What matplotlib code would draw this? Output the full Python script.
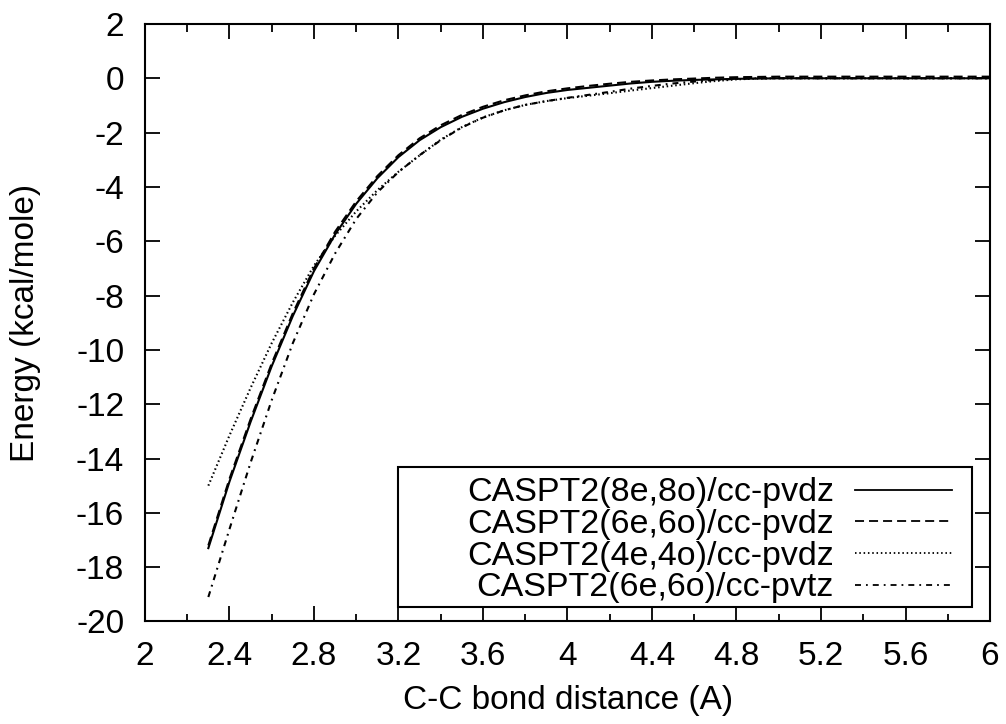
import matplotlib
matplotlib.use("Agg")
import matplotlib.pyplot as plt
from matplotlib.ticker import MultipleLocator
from matplotlib.patches import Rectangle

plt.rcParams['font.family'] = ['Liberation Sans', 'DejaVu Sans']
plt.rcParams['lines.scale_dashes'] = False
plt.rcParams['axes.unicode_minus'] = False

# C-C bond distance (A)
r = [2.3, 2.4, 2.5, 2.6, 2.7, 2.8, 2.9, 3.0, 3.1, 3.2,
     3.3, 3.4, 3.5, 3.6, 3.7, 3.8, 3.9, 4.0, 4.1, 4.2,
     4.3, 4.4, 4.5, 4.6, 4.7, 4.8, 4.9, 5.0, 5.2, 5.4,
     5.6, 5.8, 6.0]

# Energies (kcal/mole)
e_8e8o_dz = [-17.3, -14.85, -12.65, -10.6, -8.75, -7.1, -5.75, -4.62, -3.68, -2.9,
             -2.28, -1.8, -1.42, -1.12, -0.88, -0.69, -0.54, -0.43, -0.35, -0.27,
             -0.19, -0.13, -0.09, -0.06, -0.04, -0.02, -0.01, 0.0, 0.0, 0.0,
             0.0, 0.0, 0.0]
e_6e6o_dz = [-17.2, -14.75, -12.55, -10.5, -8.65, -7.0, -5.65, -4.53, -3.6, -2.83,
             -2.21, -1.73, -1.35, -1.05, -0.81, -0.63, -0.48, -0.37, -0.28, -0.2,
             -0.13, -0.08, -0.04, -0.01, 0.02, 0.04, 0.05, 0.06, 0.06, 0.06,
             0.06, 0.06, 0.06]
e_4e4o_dz = [-15.0, -13.15, -11.4, -9.75, -8.25, -6.9, -5.8, -4.9, -4.12, -3.44,
             -2.84, -2.26, -1.8, -1.44, -1.18, -0.98, -0.84, -0.73, -0.64, -0.55,
             -0.45, -0.36, -0.27, -0.18, -0.1, -0.04, -0.01, 0.0, 0.0, 0.0,
             0.0, 0.0, 0.0]
e_6e6o_tz = [-19.1, -16.6, -14.15, -11.85, -9.75, -7.95, -6.45, -5.18, -4.2, -3.45,
             -2.83, -2.28, -1.81, -1.45, -1.18, -0.98, -0.84, -0.72, -0.61, -0.5,
             -0.38, -0.28, -0.19, -0.12, -0.06, -0.02, 0.0, 0.0, 0.0, 0.0,
             0.0, 0.0, 0.0]

labels = ['CASPT2(8e,8o)/cc-pvdz', 'CASPT2(6e,6o)/cc-pvdz',
          'CASPT2(4e,4o)/cc-pvdz', 'CASPT2(6e,6o)/cc-pvtz']

xticks = [2, 2.4, 2.8, 3.2, 3.6, 4, 4.4, 4.8, 5.2, 5.6, 6]
xticklabels = ['2', '2.4', '2.8', '3.2', '3.6', '4', '4.4', '4.8', '5.2', '5.6', '6']
yticks = list(range(-20, 3, 2))

fig = plt.figure(figsize=(10.06, 7.24), dpi=100)
ax = fig.add_axes([0.1441, 0.1416, 0.8400, 0.8253])

styles = [
    dict(linestyle='-'),
    dict(linestyle=(0, (6.5, 3.6))),
    dict(linestyle=(0, (1.1, 2.0))),
    dict(linestyle=(0, (4.3, 3.6, 1.3, 3.6))),
]
series = [e_8e8o_dz, e_6e6o_dz, e_4e4o_dz, e_6e6o_tz]
for ys, lab, st in zip(series, labels, styles):
    ax.plot(r, ys, color='black', linewidth=1.5, label=lab, **st)

ax.set_xlim(2, 6)
ax.set_ylim(-20, 2)
ax.set_xticks(xticks)
ax.set_xticklabels(xticklabels)
ax.xaxis.set_minor_locator(MultipleLocator(0.2))
ax.set_yticks(yticks)

ax.tick_params(axis='both', which='both', direction='in', top=True, right=True,
               width=1.3, labelsize=24)
ax.tick_params(axis='both', which='major', length=10.8)
ax.tick_params(axis='both', which='minor', length=5.4)
ax.tick_params(axis='y', pad=15)
ax.tick_params(axis='x', pad=14)
for sp in ax.spines.values():
    sp.set_linewidth(1.5)

# key box
ax.add_patch(Rectangle((0.2994, 0.0243), 0.9787 - 0.2994, 0.2586 - 0.0243,
                       transform=ax.transAxes, facecolor='white',
                       edgecolor='black', linewidth=1.5, zorder=3))

leg = ax.legend(loc='center right', bbox_to_anchor=(0.955, 0.1356),
                markerfirst=False, fontsize=24.5, frameon=False,
                borderaxespad=0, borderpad=0, labelspacing=0.02,
                handlelength=2.85, handletextpad=0.62)
leg.set_zorder(4)
for h in leg.get_lines():
    h.set_linewidth(1.3)

fig.text(0.5646, 0.0331, 'C-C bond distance (A)', ha='center', va='center', fontsize=24)
fig.text(0.0249, 0.5545, 'Energy (kcal/mole)', ha='center', va='center',
         rotation=90, fontsize=24)

fig.savefig('out.png', dpi=100)
